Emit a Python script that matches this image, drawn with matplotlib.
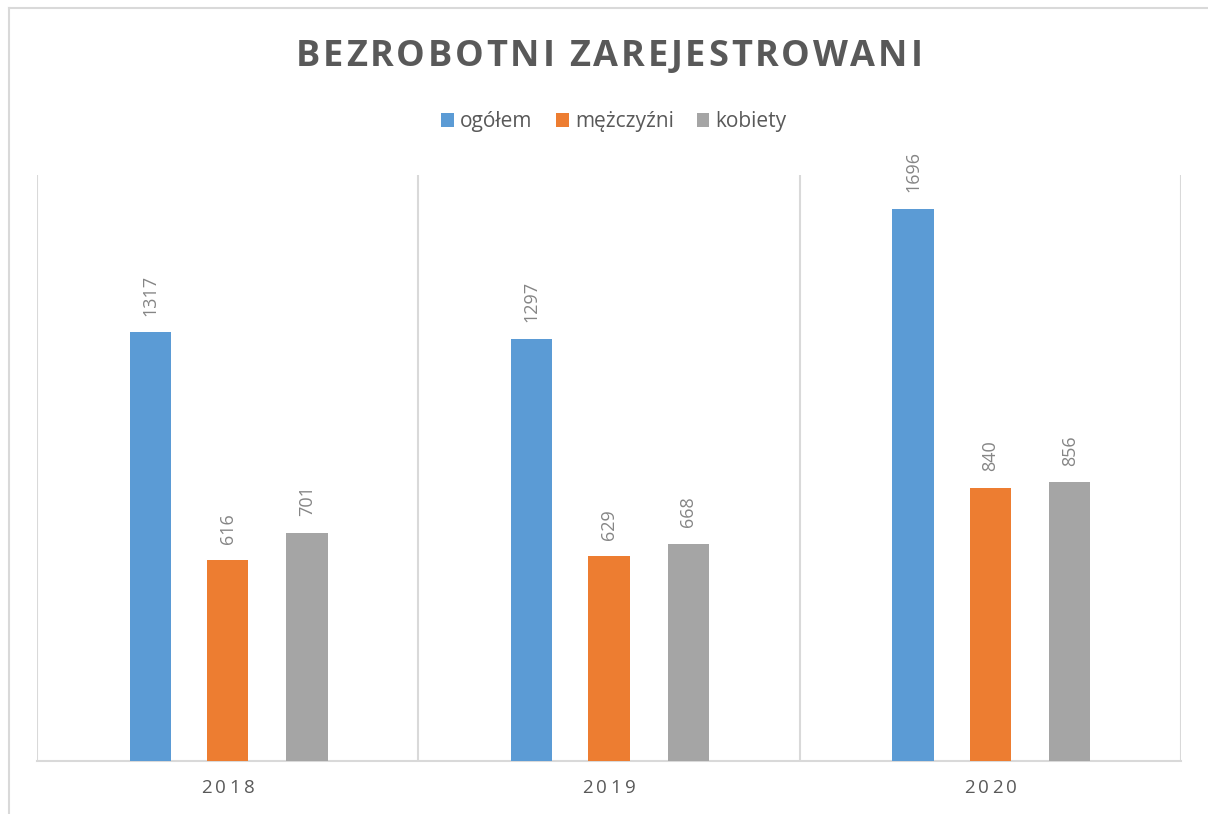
import matplotlib
matplotlib.use("Agg")
import matplotlib.pyplot as plt
import numpy as np
from matplotlib.patches import Patch
from matplotlib.lines import Line2D

years = ["2018", "2019", "2020"]
series_names = ["ogółem", "mężczyźni", "kobiety"]
ogolem = [1317, 1297, 1696]
mezczyzni = [616, 629, 840]
kobiety = [701, 668, 856]
colors = ["#5B9BD5", "#ED7D31", "#A5A5A5"]
title = "BEZROBOTNI ZAREJESTROWANI"

W, H = 1208, 814
fig = plt.figure(figsize=(W / 100, H / 100), dpi=100)
FONT = "Open Sans"

def fx(px):
    return px / W

def fy(py):
    return 1 - py / H

ax = fig.add_axes([fx(37), fy(761), fx(1181) - fx(37), fy(175) - fy(761)])
x = np.arange(len(years))
offsets = [-0.203, 0.0, 0.208]
width = 0.108
for vals, off, col in zip([ogolem, mezczyzni, kobiety], offsets, colors):
    bars = ax.bar(x + off, vals, width=width, color=col, zorder=3)
    for b, v in zip(bars, vals):
        ax.annotate(str(v), (b.get_x() + b.get_width() / 2, v), xytext=(0, 12),
                    textcoords="offset points", rotation=90, ha="center", va="bottom",
                    fontsize=13, color="#858585", family=FONT)

ax.set_xlim(-0.5, 2.5)
ax.set_ylim(0, 1800)
for b in [-0.5, 0.5, 1.5, 2.5]:
    ax.axvline(b, color="#D9D9D9", lw=1.5, zorder=1)
for s in ["top", "left", "right"]:
    ax.spines[s].set_visible(False)
ax.spines["bottom"].set_color("#D9D9D9")
ax.spines["bottom"].set_linewidth(1.5)
ax.set_yticks([])
ax.set_xticks([])

fig.canvas.draw()
renderer = fig.canvas.get_renderer()

def spaced_text(cx_px, cy_px, s, spacing_px, **kw):
    texts = []
    widths = []
    for ch in s:
        t = fig.text(0, 0, ch, ha="left", va="center", **kw)
        bb = t.get_window_extent(renderer)
        texts.append(t)
        widths.append(bb.width)
    total = sum(widths) + spacing_px * (len(s) - 1)
    xpos = cx_px - total / 2
    for t, w in zip(texts, widths):
        t.set_position((fx(xpos), fy(cy_px)))
        xpos += w + spacing_px

spaced_text(609, 57, title, 2.8, fontsize=26, fontweight="bold", color="#595959", family=FONT)

for i, yr in enumerate(years):
    xd = ax.transData.transform((i, 0))[0]
    spaced_text(xd, 788, yr, 3.5, fontsize=13.5, color="#595959", family=FONT)

handles = [Patch(facecolor=c, edgecolor="none") for c in colors]
fig.legend(handles, series_names, loc="center", bbox_to_anchor=(fx(614), fy(122)), ncol=3,
           frameon=False, handlelength=0.62, handleheight=0.62, handletextpad=0.3,
           columnspacing=1.1, prop={"family": FONT, "size": 15}, labelcolor="#595959")

fig.add_artist(Line2D([fx(8.5), fx(8.5)], [fy(7.5), 0], color="#D9D9D9", lw=1.5))
fig.add_artist(Line2D([fx(8.5), 1], [fy(7.5), fy(7.5)], color="#D9D9D9", lw=1.5))

fig.savefig("out.png", dpi=100)
